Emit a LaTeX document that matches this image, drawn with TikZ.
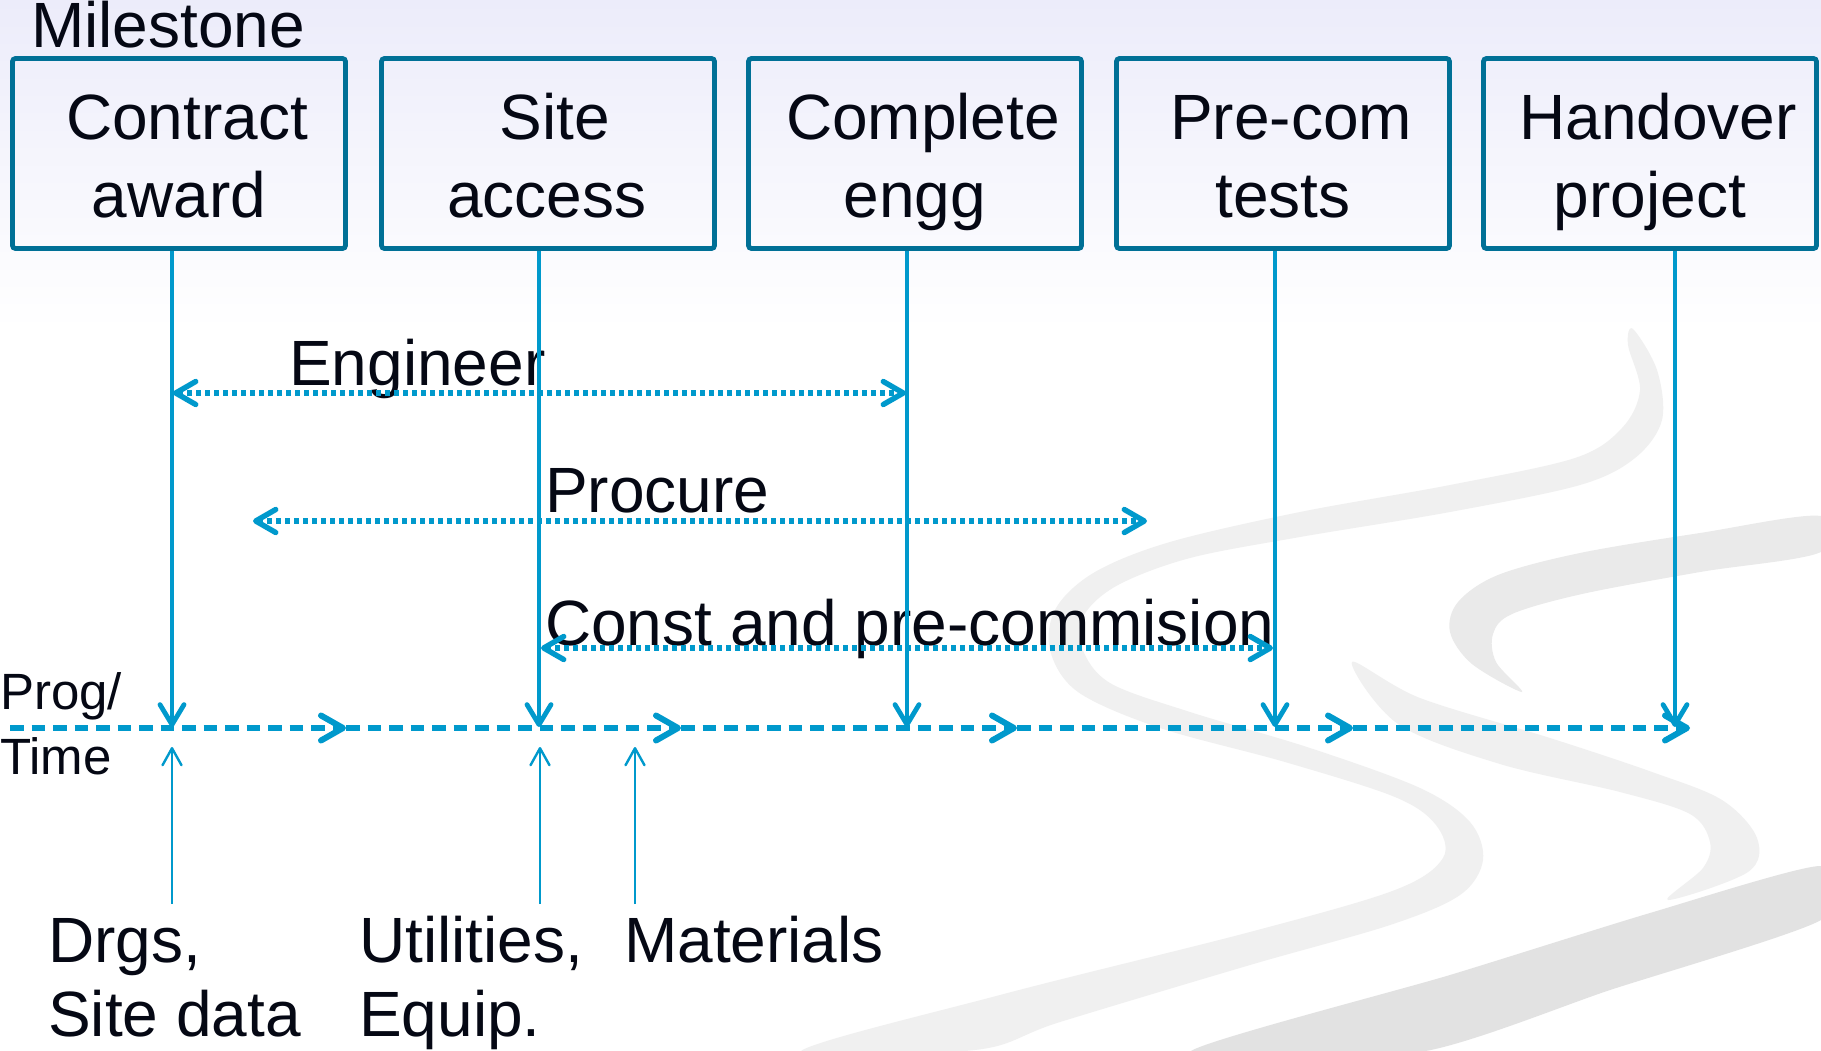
\documentclass[tikz,border=0pt]{standalone}
\usepackage{fontspec}
\setmainfont{Liberation Sans}
\usetikzlibrary{arrows.meta}
\definecolor{lineblue}{RGB}{0,153,204}
\definecolor{boxteal}{RGB}{0,112,150}
\definecolor{inkc}{RGB}{5,8,20}
\definecolor{lav}{RGB}{236,236,250}
\definecolor{swA}{RGB}{240,240,240}
\definecolor{swB}{RGB}{234,234,234}
\definecolor{swC}{RGB}{226,226,226}
\begin{document}
\begin{tikzpicture}[x=1pt,y=-1pt,
  mbox/.style={draw=boxteal, line width=4.8pt, rounded corners=3pt,
    minimum width=333pt, minimum height=190pt, inner sep=0pt},
  btext/.style={anchor=base, text=inkc, inner sep=0pt,
    font=\fontsize{64}{76}\selectfont},
  ltext/.style={anchor=base west, text=inkc, inner sep=0pt,
    font=\fontsize{64}{76}\selectfont},
  stext/.style={anchor=base west, text=inkc, inner sep=0pt,
    font=\fontsize{51}{60}\selectfont},
  downarr/.style={draw=lineblue, line width=4.8pt,
    -{Straight Barb[length=20pt,width=24pt,round]}},
  uparr/.style={draw=lineblue, line width=2.4pt,
    -{Straight Barb[length=17pt,width=19pt,round]}},
  spanarr/.style={draw=lineblue, line width=5.4pt,
    dash pattern=on 5pt off 4pt,
    {Straight Barb[length=20pt,width=23pt,round]}-{Straight Barb[length=20pt,width=23pt,round]}},
  timearr/.style={draw=lineblue, line width=6pt,
    dash pattern=on 13.5pt off 8pt,
    -{Straight Barb[length=22pt,width=25pt,round]}}
]
\useasboundingbox (0,0) rectangle (1821,1050);
% background
\fill[white] (0,0) rectangle (1821,1050);
\shade[top color=lav, bottom color=white] (0,0) rectangle (1821,330);
% decorative swooshes
\fill[swA] plot[smooth cycle, tension=0.55] coordinates {
  (1633,329) (1657,370) (1662,420) (1635,458) (1580,485) (1450,512)
  (1300,537) (1190,558) (1118,585) (1084,615) (1082,648) (1110,683)
  (1190,712) (1310,748) (1420,788) (1470,822) (1483,860) (1460,895)
  (1390,925) (1250,965) (1060,1022) (975,1050)
  (800,1052) (1000,995) (1250,932) (1395,890) (1443,858) (1436,825)
  (1395,797) (1285,762) (1160,728) (1078,692) (1050,650) (1056,608)
  (1095,572) (1170,542) (1300,512) (1450,485) (1575,458) (1622,428)
  (1640,390) (1628,345)};
\fill[swB] plot[smooth cycle, tension=0.55] coordinates {
  (1821,516) (1700,533) (1580,553) (1498,575) (1458,602) (1450,632)
  (1472,664) (1522,692) (1496,662) (1493,634) (1512,614) (1582,594)
  (1700,572) (1821,552)};
\fill[swA] plot[smooth cycle, tension=0.55] coordinates {
  (1352,662) (1420,698) (1550,738) (1652,772) (1722,800) (1757,838)
  (1748,872) (1668,900) (1703,868) (1710,842) (1690,814) (1620,792)
  (1500,764) (1398,724)};
\fill[swC] plot[smooth cycle, tension=0.4] coordinates {
  (1821,866) (1650,913) (1450,975) (1190,1052) (1420,1052) (1610,990)
  (1821,920)};
% milestone boxes
\node[ltext] (ms) at (31,47) {Milestone};
\node[mbox] (b1) at (179,153.5) {};
\node[mbox] (b2) at (548,153.5) {};
\node[mbox] (b3) at (915,153.5) {};
\node[mbox] (b4) at (1283,153.5) {};
\node[mbox] (b5) at (1650,153.5) {};
\node[btext] (b1a) at (187,139) {Contract};
\node[btext] (b1b) at (179,217) {award};
\node[btext] (b2a) at (555,139) {Site};
\node[btext] (b2b) at (547,217) {access};
\node[btext] (b3a) at (923,139) {Complete};
\node[btext] (b3b) at (915,217) {engg};
\node[btext] (b4a) at (1291,139) {Pre-com};
\node[btext] (b4b) at (1283,217) {tests};
\node[btext] (b5a) at (1658,139) {Handover};
\node[btext] (b5b) at (1650,217) {project};
% timeline coordinates
\coordinate (t0) at (10,728);
\coordinate (t1) at (346,728);
\coordinate (t2) at (681,728);
\coordinate (t3) at (1017,728);
\coordinate (t4) at (1353,728);
\coordinate (t5) at (1690,728);
\coordinate (m1) at (172,727);
\coordinate (m2) at (539,727);
\coordinate (m3) at (907,727);
\coordinate (m4) at (1275,727);
\coordinate (m5) at (1675,727);
% span labels and arrows
\node[ltext] (eng) at (289,385) {Engineer};
\node[ltext] (proc) at (545,512) {Procure};
\node[ltext] (cons) at (545,645) {Const and pre-commision};
\coordinate (e1) at (173,393);
\coordinate (e2) at (906,393);
\coordinate (p1) at (253,521);
\coordinate (p2) at (1147,521);
\coordinate (c1) at (541,648);
\coordinate (c2) at (1273,648);
\draw[spanarr] (e1) -- (e2);
\draw[spanarr] (p1) -- (p2);
\draw[spanarr] (c1) -- (c2);
% timeline
\draw[timearr] (t0) -- (t1);
\draw[timearr] (t1) -- (t2);
\draw[timearr] (t2) -- (t3);
\draw[timearr] (t3) -- (t4);
\draw[timearr] (t4) -- (t5);
\node[stext] (prog) at (0,709) {Prog/};
\node[stext] (time) at (0,774) {Time};
% milestone drops
\draw[downarr] (b1.south -| m1) -- (m1);
\draw[downarr] (b2.south -| m2) -- (m2);
\draw[downarr] (b3.south -| m3) -- (m3);
\draw[downarr] (b4.south -| m4) -- (m4);
\draw[downarr] (b5.south -| m5) -- (m5);
% inputs
\coordinate (u1) at (172,904);
\coordinate (u2) at (540,904);
\coordinate (u3) at (635,904);
\coordinate (v1) at (172,747);
\coordinate (v2) at (540,747);
\coordinate (v3) at (635,747);
\draw[uparr] (u1) -- (v1);
\draw[uparr] (u2) -- (v2);
\draw[uparr] (u3) -- (v3);
\node[ltext] (in1a) at (48,962) {Drgs,};
\node[ltext] (in1b) at (48,1036) {Site data};
\node[ltext] (in2a) at (359,962) {Utilities,};
\node[ltext] (in2b) at (359,1036) {Equip.};
\node[ltext] (in3) at (624,962) {Materials};
\end{tikzpicture}
\end{document}
